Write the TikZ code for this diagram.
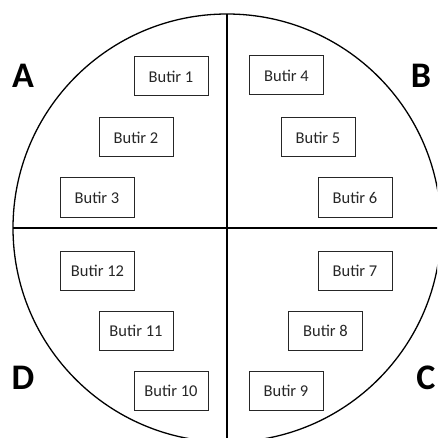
\documentclass[tikz,border=0pt]{standalone}
\usepackage{fontspec}
\setmainfont{Carlito}
\begin{document}
\begin{tikzpicture}[x=1pt,y=1pt,
  butir/.style={draw=black!85,line width=1pt,minimum width=74pt,minimum height=39pt,inner sep=0pt,text=black!85,font=\fontsize{16.5}{18}\selectfont},
  quad/.style={font=\bfseries\fontsize{36}{40}\selectfont,text=black,inner sep=0pt}]
\useasboundingbox (0,-438) rectangle (437,0);
\begin{scope}
\clip (0,-438) rectangle (437,0);
\coordinate (c) at (227,-228);
\draw[line width=1.3pt] (c) circle [radius=214];
\coordinate (top) at (227,-14);
\coordinate (bot) at (227,-440);
\coordinate (lft) at (13,-228);
\coordinate (rgt) at (441,-228);
\draw[line width=1.1pt] (top) -- (bot);
\draw[line width=1.1pt] (lft) -- (rgt);
\end{scope}
\node[butir] (b1) at (171,-76.5) {Butir 1};
\node[butir] (b2) at (136,-137.5) {Butir 2};
\node[butir] (b3) at (97,-197.5) {Butir 3};
\node[butir] (b4) at (286.5,-75.5) {Butir 4};
\node[butir] (b5) at (318,-137.5) {Butir 5};
\node[butir] (b6) at (355,-197.5) {Butir 6};
\node[butir] (b7) at (355,-270.5) {Butir 7};
\node[butir] (b8) at (325.5,-330.5) {Butir 8};
\node[butir] (b9) at (286,-390.5) {Butir 9};
\node[butir] (b10) at (171,-390.5) {Butir 10};
\node[butir] (b11) at (136,-330.5) {Butir 11};
\node[butir] (b12) at (97.5,-270.5) {Butir 12};
\node[quad] (qa) at (23,-76) {A};
\node[quad] (qb) at (421,-76) {B};
\node[quad] (qc) at (426,-378) {C};
\node[quad] (qd) at (23,-378) {D};
\end{tikzpicture}
\end{document}
